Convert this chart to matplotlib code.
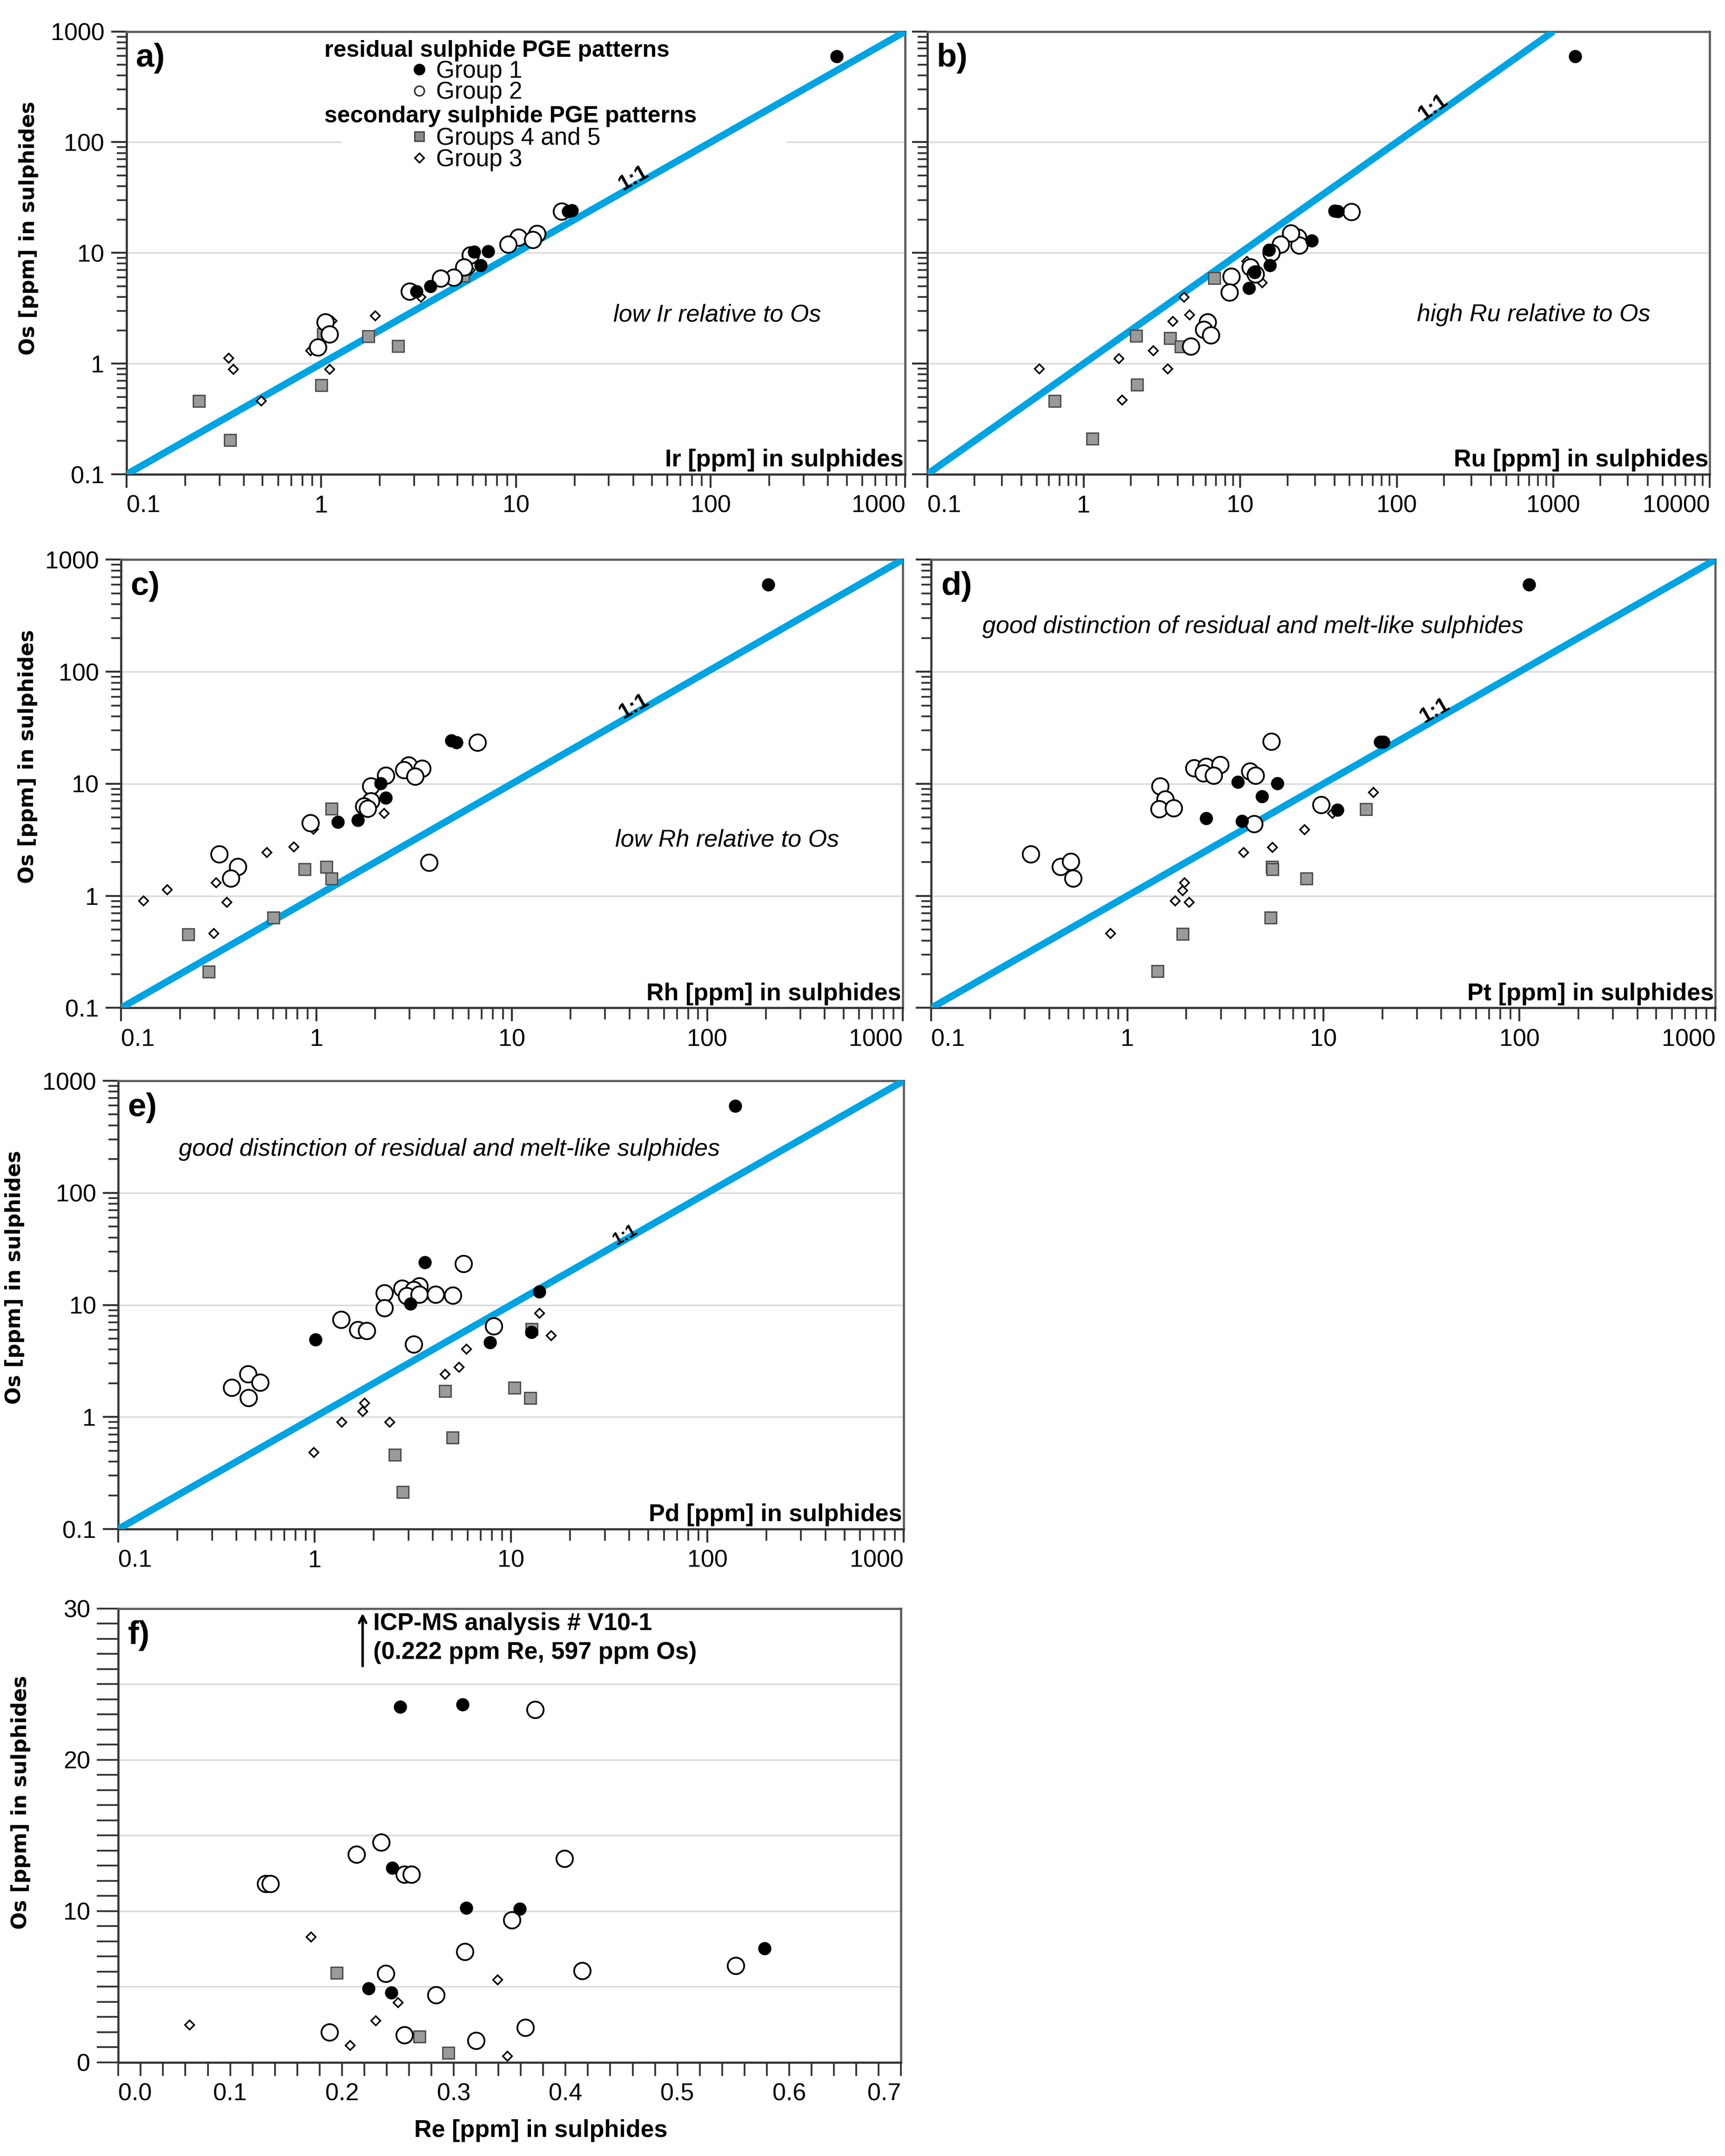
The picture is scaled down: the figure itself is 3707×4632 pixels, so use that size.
import numpy as np
import matplotlib
matplotlib.use('Agg')
import matplotlib.pyplot as plt
from matplotlib.lines import Line2D
from matplotlib.patches import Rectangle
from matplotlib.ticker import FixedLocator, NullFormatter, MultipleLocator

plt.rcParams['font.family'] = ['Liberation Sans', 'DejaVu Sans']

# ---------------- data (ppm) ----------------
# a) Ir vs Os
a_g1_x = [444, 19.4, 18.5, 7.2, 6.1, 6.6, 3.64, 3.08]
a_g1_y = [597, 24.3, 23.8, 10.3, 10.2, 7.7, 5.0, 4.5]
a_g2_x = [17.2, 12.8, 10.3, 9.1, 12.2, 5.85, 5.4, 4.8, 4.1, 2.84, 1.05, 1.1, 0.96]
a_g2_y = [23.8, 14.9, 13.8, 11.9, 13.2, 9.6, 7.45, 6.0, 5.9, 4.5, 2.37, 1.85, 1.40]
a_g45_x = [5.35, 1.74, 1.02, 2.47, 1.0, 0.235, 0.34]
a_g45_y = [6.25, 1.77, 1.85, 1.45, 0.644, 0.46, 0.205]
a_g3_x = [0.333, 0.352, 0.49, 0.88, 1.1, 1.13, 1.89, 3.24, 5.8]
a_g3_y = [1.12, 0.89, 0.46, 1.31, 0.89, 2.45, 2.72, 4.0, 7.0]

# b) Ru vs Os
b_g1_x = [1377, 41.9, 40.0, 28.6, 15.5, 11.4, 15.3, 12.3]
b_g1_y = [597, 23.8, 23.9, 12.9, 7.7, 4.8, 10.6, 6.7]
b_g2_x = [51.2, 23.3, 23.8, 21.1, 18.1, 15.8, 11.6, 12.5, 8.75, 8.5, 6.2, 5.85, 6.5, 4.82]
b_g2_y = [23.5, 13.8, 11.7, 15.1, 12.0, 10.0, 7.4, 6.4, 6.1, 4.4, 2.38, 2.03, 1.81, 1.44]
b_g45_x = [6.8, 2.16, 3.55, 4.17, 2.19, 0.65, 1.13]
b_g45_y = [5.95, 1.79, 1.71, 1.44, 0.648, 0.46, 0.211]
b_g3_x = [0.52, 1.67, 1.76, 2.78, 3.44, 3.69, 4.74, 4.37, 11.0, 13.8, 21.0]
b_g3_y = [0.90, 1.11, 0.47, 1.32, 0.90, 2.41, 2.78, 4.0, 8.4, 5.4, 15.6]

# c) Rh vs Os
c_g1_x = [205, 4.9, 5.2, 2.13, 2.26, 1.63, 1.29]
c_g1_y = [597, 24.3, 23.4, 10.1, 7.5, 4.75, 4.56]
c_g2_x = [6.67, 2.96, 2.8, 3.47, 3.2, 2.26, 1.9, 1.9, 1.75, 1.83, 0.93, 0.317, 0.395, 0.364, 3.77]
c_g2_y = [23.4, 14.7, 13.3, 13.7, 11.7, 11.9, 9.5, 7.0, 6.3, 6.0, 4.47, 2.35, 1.82, 1.43, 1.99]
c_g45_x = [1.19, 0.866, 1.12, 1.19, 0.60, 0.22, 0.28]
c_g45_y = [6.0, 1.74, 1.82, 1.43, 0.645, 0.457, 0.211]
c_g3_x = [0.13, 0.172, 0.305, 0.347, 0.297, 0.557, 0.765, 0.96, 2.22, 1.9]
c_g3_y = [0.906, 1.14, 1.31, 0.88, 0.464, 2.45, 2.74, 3.95, 5.46, 8.1]

# d) Pt vs Os
d_g1_x = [112, 20.3, 19.5, 5.84, 3.67, 4.86, 2.53, 3.85, 11.8]
d_g1_y = [597, 23.6, 23.6, 10.1, 10.35, 7.7, 4.93, 4.67, 5.85]
d_g2_x = [5.43, 2.19, 2.53, 2.97, 2.44, 2.76, 4.22, 4.5, 1.47, 1.56, 1.45, 1.72, 9.75, 4.43,
          0.321, 0.455, 0.514, 0.53]
d_g2_y = [23.8, 13.8, 14.2, 14.8, 12.4, 11.9, 12.9, 11.9, 9.5, 7.3, 5.98, 6.1, 6.48, 4.38,
          2.36, 1.82, 2.02, 1.43]
d_g45_x = [16.5, 5.46, 5.5, 8.17, 5.36, 1.91, 1.42]
d_g45_y = [5.97, 1.82, 1.73, 1.43, 0.64, 0.46, 0.213]
d_g3_x = [18.0, 11.1, 8.0, 5.5, 3.9, 1.95, 1.91, 1.75, 2.06, 0.82]
d_g3_y = [8.4, 5.46, 3.93, 2.71, 2.44, 1.31, 1.12, 0.91, 0.88, 0.466]

# e) Pd vs Os
e_g1_x = [139, 3.64, 13.9, 3.07, 1.01, 7.83, 12.7]
e_g1_y = [597, 23.9, 13.1, 10.2, 4.89, 4.62, 5.7]
e_g2_x = [5.72, 2.79, 3.40, 3.2, 2.95, 3.4, 2.26, 2.26, 4.12, 5.06, 1.36, 1.66, 1.84, 8.17,
          3.2, 0.378, 0.457, 0.528, 0.46]
e_g2_y = [23.4, 14.0, 14.8, 13.6, 12.1, 12.4, 12.8, 9.37, 12.4, 12.2, 7.4, 6.0, 5.9, 6.5,
          4.47, 1.84, 2.41, 2.04, 1.48]
e_g45_x = [12.7, 4.6, 10.4, 12.5, 5.02, 2.55, 2.8]
e_g45_y = [6.1, 1.71, 1.84, 1.48, 0.66, 0.46, 0.214]
e_g3_x = [13.9, 16.0, 5.92, 5.42, 4.6, 1.79, 1.75, 1.37, 2.40, 0.99]
e_g3_y = [8.47, 5.35, 4.04, 2.79, 2.41, 1.33, 1.12, 0.90, 0.90, 0.483]

# f) Re vs Os (linear)
f_g1_x = [0.252, 0.308, 0.245, 0.311, 0.359, 0.578, 0.224, 0.244]
f_g1_y = [23.5, 23.65, 12.87, 10.21, 10.14, 7.55, 4.89, 4.60]
f_g2_x = [0.373, 0.235, 0.213, 0.399, 0.256, 0.262, 0.132, 0.136, 0.352, 0.310, 0.552,
          0.415, 0.239, 0.284, 0.364, 0.189, 0.256, 0.320]
f_g2_y = [23.32, 14.55, 13.75, 13.49, 12.44, 12.44, 11.81, 11.81, 9.42, 7.31, 6.40,
          6.06, 5.87, 4.46, 2.32, 1.99, 1.80, 1.46]
f_g45_x = [0.195, 0.269, 0.295]
f_g45_y = [5.94, 1.73, 0.65]
f_g3_x = [0.172, 0.339, 0.250, 0.230, 0.0635, 0.207, 0.348]
f_g3_y = [8.32, 5.49, 3.98, 2.76, 2.49, 1.13, 0.43]

one_to_one = [0.1, 1000]
decade_ticks = [0.1, 1, 10, 100, 1000, 10000]
decade_labels = ['0.1', '1', '10', '100', '1000', '10000']

# ---------------- styles ----------------
BLUE = '#00a3df'
st_g1 = dict(ls='none', marker='o', ms=6.2, mfc='black', mec='black', mew=0.6, zorder=6)
st_g2 = dict(ls='none', marker='o', ms=8.5, mfc='white', mec='black', mew=0.9, zorder=5)
st_g45 = dict(ls='none', marker='s', ms=6.0, mfc='#9a9a9a', mec='#4d4d4d', mew=0.7, zorder=4)
st_g3 = dict(ls='none', marker='D', ms=3.3, mfc='white', mec='black', mew=0.8, zorder=4)

FW, FH = 3707 / 300, 4632 / 300
fig = plt.figure(figsize=(FW, FH), dpi=300, facecolor='white')

boxes = {
    'a': [0.0734, 0.7800, 0.4514, 0.2054],
    'b': [0.5375, 0.7800, 0.4537, 0.2054],
    'c': [0.0702, 0.5325, 0.4530, 0.2079],
    'd': [0.5399, 0.5325, 0.4545, 0.2079],
    'e': [0.0686, 0.2908, 0.4553, 0.2079],
    'f': [0.0686, 0.0434, 0.4537, 0.2105],
}


def style_spines(ax):
    for s in ['left', 'bottom']:
        ax.spines[s].set_color('#333333')
        ax.spines[s].set_linewidth(1.1)
    for s in ['top', 'right']:
        ax.spines[s].set_color('#5a5a5a')
        ax.spines[s].set_linewidth(1.1)


def log_panel(key, xs, ys, xmax, xname, ylabels=True):
    ax = fig.add_axes(boxes[key])
    ax.set_xscale('log')
    ax.set_yscale('log')
    ax.set_xlim(0.1, xmax)
    ax.set_ylim(0.1, 1000)
    nx = int(round(np.log10(xmax / 0.1)))
    ax.set_xticks(decade_ticks[:nx + 1], decade_labels[:nx + 1])
    ax.set_yticks(decade_ticks[:5], decade_labels[:5] if ylabels else [''] * 5)
    ax.xaxis.set_minor_formatter(NullFormatter())
    ax.yaxis.set_minor_formatter(NullFormatter())
    ax.tick_params(axis='both', which='major', direction='out', labelsize=12.5,
                   color='#333333')
    ax.tick_params(axis='x', which='major', length=7, width=1.0)
    ax.tick_params(axis='x', which='minor', length=6, width=0.9, color='#333333')
    ax.tick_params(axis='y', which='major', length=8, width=1.0)
    ax.tick_params(axis='y', which='minor', length=5, width=0.9, color='#333333')
    xl = ax.get_xticklabels()
    xl[0].set_horizontalalignment('left')
    xl[-1].set_horizontalalignment('right')
    ax.set_axisbelow(True)
    ax.yaxis.grid(True, which='major', color='#dadada', lw=0.8)
    style_spines(ax)

    ax.plot(one_to_one, one_to_one, color=BLUE, lw=3.6, zorder=3, solid_capstyle='butt')
    ax.plot(xs[1], ys[1], **st_g2)
    ax.plot(xs[2], ys[2], **st_g45)
    ax.plot(xs[3], ys[3], **st_g3)
    ax.plot(xs[0], ys[0], **st_g1)

    ax.text(0.012, 0.94, key + ')', transform=ax.transAxes, ha='left', va='center',
            fontsize=17, fontweight='bold')
    ax.text(0.998, 0.006, xname, transform=ax.transAxes, ha='right', va='bottom',
            fontsize=12.5, fontweight='bold')
    if ylabels:
        ax.set_ylabel('Os [ppm] in sulphides', family='DejaVu Sans', fontsize=10.6,
                      fontweight='bold')
    return ax, nx


def one_one_label(ax, nx, x, y, size=11):
    pos = ax.get_position()
    ang = np.degrees(np.arctan2(pos.height * FH / 4, pos.width * FW / nx))
    ax.text(x, y, '1:1', rotation=ang, ha='center', va='center', fontsize=size,
            fontweight='bold', zorder=7, rotation_mode='anchor')


# ---------------- a ----------------
ax_a, n = log_panel('a', [a_g1_x, a_g2_x, a_g45_x, a_g3_x], [a_g1_y, a_g2_y, a_g45_y, a_g3_y],
                    1000, 'Ir [ppm] in sulphides')
ax_a.yaxis.set_label_coords(-0.113, 0.556)
one_one_label(ax_a, n, 40, 47)
ax_a.text(0.625, 0.36, 'low Ir relative to Os', transform=ax_a.transAxes, fontsize=12.5,
          style='italic', ha='left', va='center')
ax_a.add_patch(Rectangle((0.276, 0.683), 0.572, 0.31, transform=ax_a.transAxes,
                         facecolor='white', edgecolor='none', zorder=1))
ax_a.text(0.254, 0.957, 'residual sulphide PGE patterns', transform=ax_a.transAxes,
          fontsize=12, fontweight='bold', ha='left', va='center', zorder=8)
ax_a.text(0.254, 0.808, 'secondary sulphide PGE patterns', transform=ax_a.transAxes,
          fontsize=12, fontweight='bold', ha='left', va='center', zorder=8)
h1 = Line2D([], [], ls='none', marker='o', ms=5, mfc='black', mec='black')
h2 = Line2D([], [], ls='none', marker='o', ms=5, mfc='white', mec='#333333', mew=0.8)
h45 = Line2D([], [], ls='none', marker='s', ms=5, mfc='#8a8a8a', mec='#444444', mew=0.7)
h3 = Line2D([], [], ls='none', marker='D', ms=3.3, mfc='white', mec='black', mew=0.8)
leg_kw = dict(loc='upper left', frameon=False, handlelength=0.8, handletextpad=0.3,
              labelspacing=-0.06, borderpad=0, borderaxespad=0, fontsize=12.3)
leg1 = ax_a.legend([h1, h2], ['Group 1', 'Group 2'], bbox_to_anchor=(0.3635, 0.936), **leg_kw)
ax_a.add_artist(leg1)
ax_a.legend([h45, h3], ['Groups 4 and 5', 'Group 3'], bbox_to_anchor=(0.3635, 0.784), **leg_kw)

# ---------------- b ----------------
ax_b, n = log_panel('b', [b_g1_x, b_g2_x, b_g45_x, b_g3_x], [b_g1_y, b_g2_y, b_g45_y, b_g3_y],
                    10000, 'Ru [ppm] in sulphides', ylabels=False)
one_one_label(ax_b, n, 170, 205)
ax_b.text(0.626, 0.36, 'high Ru relative to Os', transform=ax_b.transAxes, fontsize=12.5,
          style='italic', ha='left', va='center')

# ---------------- c ----------------
ax_c, n = log_panel('c', [c_g1_x, c_g2_x, c_g45_x, c_g3_x], [c_g1_y, c_g2_y, c_g45_y, c_g3_y],
                    1000, 'Rh [ppm] in sulphides')
ax_c.yaxis.set_label_coords(-0.107, 0.561)
one_one_label(ax_c, n, 42, 49)
ax_c.text(0.632, 0.374, 'low Rh relative to Os', transform=ax_c.transAxes, fontsize=12.5,
          style='italic', ha='left', va='center')

# ---------------- d ----------------
ax_d, n = log_panel('d', [d_g1_x, d_g2_x, d_g45_x, d_g3_x], [d_g1_y, d_g2_y, d_g45_y, d_g3_y],
                    1000, 'Pt [ppm] in sulphides', ylabels=False)
one_one_label(ax_d, n, 37, 45)
ax_d.text(0.065, 0.85, 'good distinction of residual and melt-like sulphides',
          transform=ax_d.transAxes, fontsize=12.5, style='italic', ha='left', va='center')

# ---------------- e ----------------
ax_e, n = log_panel('e', [e_g1_x, e_g2_x, e_g45_x, e_g3_x], [e_g1_y, e_g2_y, e_g45_y, e_g3_y],
                    1000, 'Pd [ppm] in sulphides')
ax_e.yaxis.set_label_coords(-0.119, 0.561)
one_one_label(ax_e, n, 38, 42, size=9)
ax_e.text(0.077, 0.847, 'good distinction of residual and melt-like sulphides',
          transform=ax_e.transAxes, fontsize=12.5, style='italic', ha='left', va='center')

# ---------------- f ----------------
ax_f = fig.add_axes(boxes['f'])
ax_f.set_xlim(0, 0.7)
ax_f.set_ylim(0, 30)
ax_f.set_xticks(np.arange(0, 0.71, 0.1), ['%.1f' % v for v in np.arange(0, 0.71, 0.1)])
ax_f.xaxis.set_minor_locator(MultipleLocator(0.02))
ax_f.set_yticks(np.arange(0, 31, 5), ['0', '', '10', '', '20', '', '30'])
ax_f.yaxis.set_minor_locator(MultipleLocator(1))
ax_f.tick_params(axis='both', which='both', direction='out', color='#333333', width=0.9)
ax_f.tick_params(axis='both', which='major', labelsize=12.5)
ax_f.tick_params(axis='x', which='both', length=7)
ax_f.tick_params(axis='y', which='both', length=11)
fl = ax_f.get_xticklabels()
fl[0].set_horizontalalignment('left')
fl[-1].set_horizontalalignment('right')
ax_f.set_axisbelow(True)
ax_f.yaxis.grid(True, which='major', color='#dadada', lw=0.8)
style_spines(ax_f)
ax_f.plot(f_g2_x, f_g2_y, **st_g2)
ax_f.plot(f_g45_x, f_g45_y, **st_g45)
ax_f.plot(f_g3_x, f_g3_y, **st_g3)
ax_f.plot(f_g1_x, f_g1_y, **st_g1)
ax_f.text(0.012, 0.94, 'f)', transform=ax_f.transAxes, ha='left', va='center',
          fontsize=17, fontweight='bold')
ax_f.annotate('', xy=(0.2185, 29.7), xytext=(0.2185, 26.2),
              arrowprops=dict(arrowstyle='->', lw=1.3, color='black',
                              shrinkA=0, shrinkB=0, mutation_scale=9))
ax_f.text(0.228, 29.0, 'ICP-MS analysis # V10-1', fontsize=12.5, fontweight='bold',
          ha='left', va='center')
ax_f.text(0.228, 27.1, '(0.222 ppm Re, 597 ppm Os)', fontsize=12.5, fontweight='bold',
          ha='left', va='center')
ax_f.set_xlabel('Re [ppm] in sulphides', fontsize=12.5, fontweight='bold', labelpad=10)
ax_f.xaxis.set_label_coords(0.54, -0.125)
ax_f.set_ylabel('Os [ppm] in sulphides', family='DejaVu Sans', fontsize=10.6,
                fontweight='bold')
ax_f.yaxis.set_label_coords(-0.112, 0.573)

fig.savefig('out.png', dpi=300, facecolor='white')
